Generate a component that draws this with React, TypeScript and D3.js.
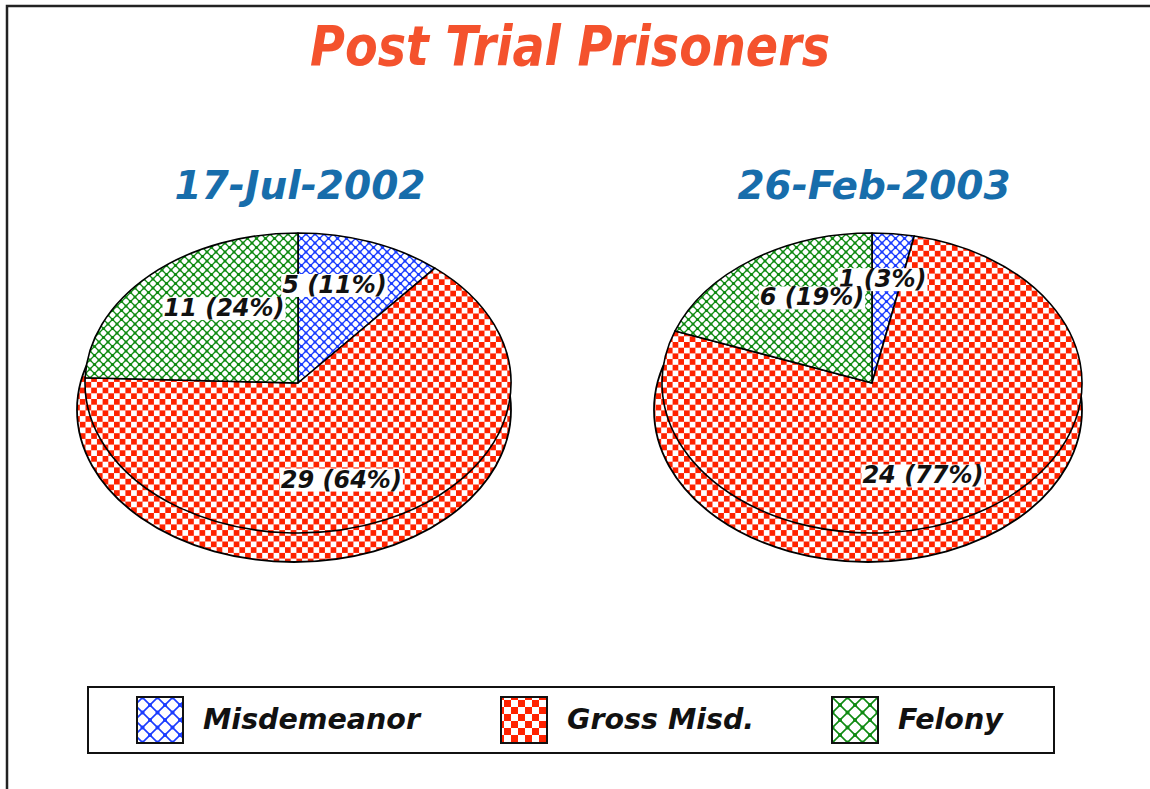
import React, { useEffect, useRef } from "react";
import * as d3 from "d3";

const title = "Post Trial Prisoners";
const categories = ["Misdemeanor", "Gross Misd.", "Felony"];
const dates = ["17-Jul-2002", "26-Feb-2003"];
const julValues = [5, 29, 11];
const febValues = [1, 24, 6];

const W = 1150;
const H = 789;
const FONT = "'DejaVu Sans', sans-serif";

export default function App() {
  const ref = useRef<SVGSVGElement>(null);

  useEffect(() => {
    const svg = d3.select(ref.current);
    svg.selectAll("*").remove();
    const defs = svg.append("defs");

    // patterns
    const lattice = (id: string, color: string, size: number) => {
      const p = defs.append("pattern").attr("id", id).attr("patternUnits", "userSpaceOnUse")
        .attr("width", size).attr("height", size);
      p.append("rect").attr("width", size).attr("height", size).attr("fill", "#fff");
      p.append("path").attr("d", `M-1,-1L${size + 1},${size + 1}M${size + 1},-1L-1,${size + 1}`)
        .attr("stroke", color).attr("stroke-width", size > 10 ? 1.6 : 1.25).attr("fill", "none");
      const r = size > 10 ? 2 : 1.6;
      [[0, 0], [size, 0], [0, size], [size, size], [size / 2, size / 2]].forEach(([x, y]) =>
        p.append("circle").attr("cx", x).attr("cy", y).attr("r", r).attr("fill", color));
    };
    const checker = (id: string, color: string, size: number) => {
      const p = defs.append("pattern").attr("id", id).attr("patternUnits", "userSpaceOnUse")
        .attr("width", size).attr("height", size);
      p.append("rect").attr("width", size).attr("height", size).attr("fill", "#fff");
      p.append("rect").attr("width", size / 2).attr("height", size / 2).attr("fill", color);
      p.append("rect").attr("x", size / 2).attr("y", size / 2).attr("width", size / 2).attr("height", size / 2).attr("fill", color);
    };
    lattice("p0", "#1a3cff", 9);
    checker("p1", "#ff2200", 11.4);
    lattice("p2", "#0f8a12", 9);
    lattice("l0", "#1a3cff", 15);
    checker("l1", "#ff2200", 14);
    lattice("l2", "#0f8a12", 15);

    // frame
    svg.append("rect").attr("x", 7).attr("y", 6).attr("width", 1300).attr("height", 1000)
      .attr("fill", "#fff").attr("stroke", "#222").attr("stroke-width", 2.5);

    // title
    svg.append("text").attr("x", 570).attr("y", 65).attr("text-anchor", "middle")
      .attr("font-family", FONT).attr("font-weight", "bold").attr("font-style", "italic")
      .attr("font-size", 56).attr("fill", "#f4522d")
      .attr("textLength", 520).attr("lengthAdjust", "spacingAndGlyphs")
      .text(title);

    const pie = d3.pie<number>().sort(null).value((d) => d);

    const slicePath = (cx: number, cy: number, rx: number, ry: number, a0: number, a1: number) => {
      const x0 = cx + rx * Math.sin(a0), y0 = cy - ry * Math.cos(a0);
      const x1 = cx + rx * Math.sin(a1), y1 = cy - ry * Math.cos(a1);
      const large = a1 - a0 > Math.PI ? 1 : 0;
      return `M${cx},${cy}L${x0},${y0}A${rx},${ry} 0 ${large} 1 ${x1},${y1}Z`;
    };

    const pies = [
      { values: julValues, date: dates[0], cx: 298, cy: 383, rx: 213 },
      { values: febValues, date: dates[1], cx: 872, cy: 383, rx: 210 },
    ];

    pies.forEach((pd) => {
      const { cx, cy, rx } = pd;
      const ry = 150;
      const g = svg.append("g");
      g.append("text").attr("x", cx + 2).attr("y", 199).attr("text-anchor", "middle")
        .attr("font-family", FONT).attr("font-weight", "bold").attr("font-style", "italic")
        .attr("font-size", 39).attr("fill", "#176dab").text(pd.date);

      const arcs = pie(pd.values);
      const total = d3.sum(pd.values);
      // side / bottom: base filled with the slice facing front, then front-half slices
      const bcx = cx - 4, bcy = cy + 27, brx = rx + 4, bry = ry + 2;
      const frontIdx = arcs.findIndex((a) => a.startAngle <= Math.PI && a.endAngle >= Math.PI);
      g.append("ellipse").attr("cx", bcx).attr("cy", bcy).attr("rx", brx).attr("ry", bry)
        .attr("fill", `url(#p${frontIdx})`).attr("stroke", "none");
      arcs.forEach((a, i) => {
        const s = Math.max(a.startAngle, Math.PI / 2);
        const e = Math.min(a.endAngle, (3 * Math.PI) / 2);
        if (e <= s) return;
        g.append("path").attr("d", slicePath(bcx, bcy, brx, bry, s, e))
          .attr("fill", `url(#p${i})`).attr("stroke", "none");
      });
      g.append("ellipse").attr("cx", bcx).attr("cy", bcy).attr("rx", brx).attr("ry", bry)
        .attr("fill", "none").attr("stroke", "#000").attr("stroke-width", 1.8);
      // top
      arcs.forEach((a, i) => {
        g.append("path").attr("d", slicePath(cx, cy, rx, ry, a.startAngle, a.endAngle))
          .attr("fill", `url(#p${i})`).attr("stroke", "#000").attr("stroke-width", 1.6)
          .attr("stroke-linejoin", "round");
      });
      // labels
      arcs.forEach((a, i) => {
        const mid = (a.startAngle + a.endAngle) / 2;
        const lx = cx + rx * 0.5 * Math.sin(mid);
        const ly = cy - ry * 0.7 * Math.cos(mid);
        const pct = Math.round((pd.values[i] / total) * 100);
        const lg = g.append("g");
        const rect = lg.append("rect").attr("fill", "#fff");
        const t = lg.append("text").attr("x", lx).attr("y", ly).attr("dy", "0.36em")
          .attr("text-anchor", "middle").attr("font-family", FONT).attr("font-weight", "bold")
          .attr("font-style", "italic").attr("font-size", 24).attr("fill", "#111")
          .text(`${pd.values[i]} (${pct}%)`);
        const bb = (t.node() as SVGTextElement).getBBox();
        rect.attr("x", bb.x - 1).attr("y", bb.y + 3).attr("width", bb.width + 2).attr("height", bb.height - 5);
      });
    });

    // legend
    svg.append("rect").attr("x", 88).attr("y", 687).attr("width", 966).attr("height", 66)
      .attr("fill", "#fff").attr("stroke", "#111").attr("stroke-width", 2);
    const legendX = [137, 501, 832];
    categories.forEach((c, i) => {
      svg.append("rect").attr("x", legendX[i]).attr("y", 697).attr("width", 46).attr("height", 46)
        .attr("fill", `url(#l${i})`).attr("stroke", "#111").attr("stroke-width", 2);
      svg.append("text").attr("x", legendX[i] + 66).attr("y", 729)
        .attr("font-family", FONT).attr("font-weight", "bold").attr("font-style", "italic")
        .attr("font-size", 28.5).attr("fill", "#111").text(c);
    });
  }, []);

  return (
    <svg ref={ref} width={W} height={H} style={{ position: "absolute", left: 0, top: 0, background: "#fff" }} />
  );
}
